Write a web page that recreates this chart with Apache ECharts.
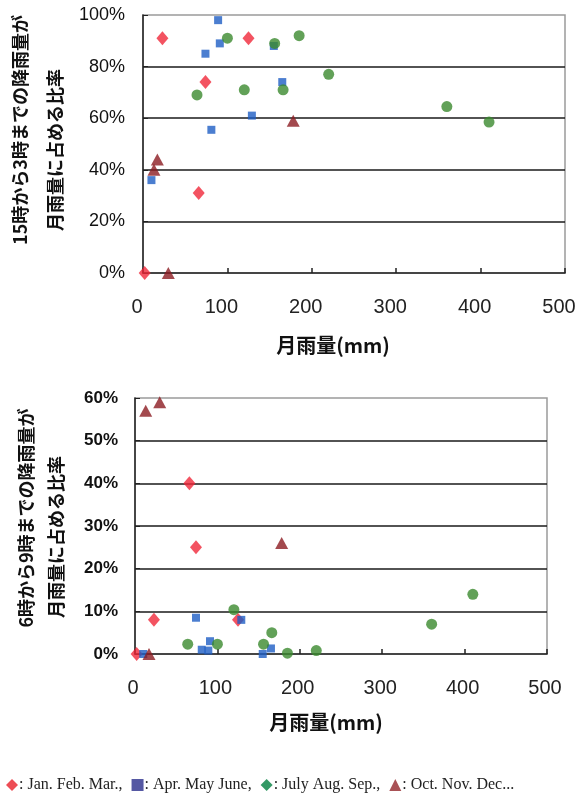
<!DOCTYPE html>
<html><head><meta charset="utf-8">
<script src="https://cdn.jsdelivr.net/npm/echarts@6/dist/echarts.min.js"></script>
<style>html,body{margin:0;padding:0;background:#fff}#c{width:579px;height:794px}</style>
</head><body><div id="c"></div>
<script>
// Monthly rainfall (mm) per season
const rainJFM = [2, 23, 66, 74, 125];
const rainAMJ = [10, 74, 81, 89, 91, 129, 155, 165];
const rainJAS = [64, 100, 120, 156, 166, 185, 220, 360, 410];
const rainOND = [13, 17, 30, 178];
// Share of rain 15:00-3:00 (%)
const evenJFM = [0, 91, 31, 74, 91];
const evenAMJ = [36, 85, 55.5, 98, 89, 61, 88, 74];
const evenJAS = [69, 91, 71, 89, 71, 92, 77, 64.5, 58.5];
const evenOND = [40, 44, 0, 59];
// Share of rain 6:00-9:00 (%)
const mornJFM = [0, 8, 40, 25, 8];
const mornAMJ = [0, 8.5, 1, 0.8, 3, 8, 0, 1.3];
const mornJAS = [2.3, 2.3, 10.4, 2.3, 5, 0.2, 0.8, 7, 14];
const mornOND = [57, 0, 59, 26];
const seasons = ['Jan. Feb. Mar.', 'Apr. May June', 'July Aug. Sep.', 'Oct. Nov. Dec.'];
const xTicks = [0, 100, 200, 300, 400, 500];
const topTitle = ['15時から3時までの降雨量が', '月雨量に占める比率'];
const botTitle = ['6時から9時までの降雨量が', '月雨量に占める比率'];
const xTitle = '月雨量(mm)';

const pair = (xs, ys) => xs.map((x, i) => [x, ys[i]]);
const symCfg = [
  {symbol: 'diamond', size: [12, 14], color: '#F0283A'},
  {symbol: 'rect', size: 8, color: '#1E5EC4'},
  {symbol: 'circle', size: 11, color: '#3B8A2E'},
  {symbol: 'triangle', size: [13, 12], color: '#8C1C22'}
];
const rains = [rainJFM, rainAMJ, rainJAS, rainOND];
const evens = [evenJFM, evenAMJ, evenJAS, evenOND];
const morns = [mornJFM, mornAMJ, mornJAS, mornOND];

const cjk = '"Noto Sans CJK JP", sans-serif';
const lat = '"Liberation Sans", Arial, sans-serif';

function xAx(gi, nameGap, padR, labPadR) {
  return {
    type: 'value', gridIndex: gi, min: 0, max: 500, interval: 100,
    name: xTitle, nameLocation: 'middle', nameGap: nameGap, nameMoveOverlap: false,
    nameTextStyle: {fontFamily: cjk, fontSize: 20, fontWeight: 'bold', color: '#111', padding: [0, padR, 0, 0]},
    axisLine: {show: true, lineStyle: {color: '#222', width: 1.5}},
    axisTick: {show: true, inside: true, length: 5, lineStyle: {color: '#222', width: 1.5}},
    axisLabel: {fontFamily: lat, fontSize: 20, color: '#222', margin: 24, padding: [0, labPadR, 0, 0],
      formatter: v => xTicks.includes(v) ? String(v) : ''},
    splitLine: {show: false}
  };
}
function yAx(gi, max, interval, lines, nameGap, lh, pa, pb, labelCfg) {
  const base = {fontFamily: cjk, fontSize: 18, fontWeight: 'bold', color: '#111', lineHeight: lh};
  return {
    type: 'value', gridIndex: gi, min: 0, max: max, interval: interval,
    name: '{a|' + lines[0] + '}\n{b|' + lines[1] + '}', nameLocation: 'middle', nameRotate: 90,
    nameGap: nameGap, nameMoveOverlap: false,
    nameTextStyle: Object.assign({}, base, {
      rich: {
        a: Object.assign({}, base, {padding: pa}),
        b: Object.assign({}, base, {padding: pb})
      }
    }),
    axisLine: {show: true, lineStyle: {color: '#222', width: 1.5}},
    axisTick: {show: true, inside: true, length: 5, lineStyle: {color: '#222'}},
    axisLabel: Object.assign({color: '#111', formatter: '{value}%'}, labelCfg),
    splitLine: {show: true, showMinLine: false, showMaxLine: false, lineStyle: {color: '#1a1a1a', width: 1.6}}
  };
}

const series = [];
for (let s = 0; s < 4; s++) {
  series.push({
    name: seasons[s], type: 'scatter', xAxisIndex: 0, yAxisIndex: 0,
    symbol: symCfg[s].symbol, symbolSize: symCfg[s].size,
    itemStyle: {color: symCfg[s].color}, data: pair(rains[s], evens[s])
  });
  series.push({
    name: seasons[s], type: 'scatter', xAxisIndex: 1, yAxisIndex: 1,
    symbol: symCfg[s].symbol, symbolSize: symCfg[s].size,
    itemStyle: {color: symCfg[s].color}, data: pair(rains[s], morns[s])
  });
}

const legendIcons = [
  {icon: 'diamond', color: '#E8202A'},
  {icon: 'rect', color: '#2B2E8C'},
  {icon: 'diamond', color: '#00803F'},
  {icon: 'triangle', color: '#93272C'}
];

const chart = echarts.init(document.getElementById('c'), null, {renderer: 'canvas'});
chart.setOption({
  animation: false,
  backgroundColor: '#fff',
  grid: [
    {left: 143, top: 15, width: 422, height: 258, containLabel: false, outerBoundsMode: 'none',
     show: true, borderColor: '#9a9a9a', borderWidth: 1.5, backgroundColor: 'transparent'},
    {left: 135, top: 398, width: 412, height: 256, containLabel: false, outerBoundsMode: 'none',
     show: true, borderColor: '#9a9a9a', borderWidth: 1.5, backgroundColor: 'transparent'}
  ],
  xAxis: [xAx(0, 62, 42, 12), xAx(1, 58, 30, 4)],
  yAxis: [
    yAx(0, 100, 20, topTitle, 70, 35, [0, 0, 0, 28], [0, 12, 0, 0],
        {fontFamily: lat, fontSize: 18, margin: 18}),
    yAx(1, 60, 10, botTitle, 64, 30, [0, 0, 0, 16], [0, 22, 0, 0],
        {fontFamily: lat, fontSize: 17, fontWeight: 'bold', margin: 17})
  ],
  legend: {
    left: 6, top: 777, itemWidth: 12, itemHeight: 12, itemGap: 9, padding: 0,
    selectedMode: false,
    textStyle: {fontFamily: '"Liberation Serif", "Times New Roman", serif', fontSize: 16, color: '#222', padding: [0, 0, 0, -4]},
    formatter: n => ': ' + n + (n === seasons[3] ? '..' : ','),
    data: seasons.map((n, i) => ({name: n, icon: legendIcons[i].icon, itemStyle: {color: legendIcons[i].color}}))
  },
  series: series
});
</script></body></html>
